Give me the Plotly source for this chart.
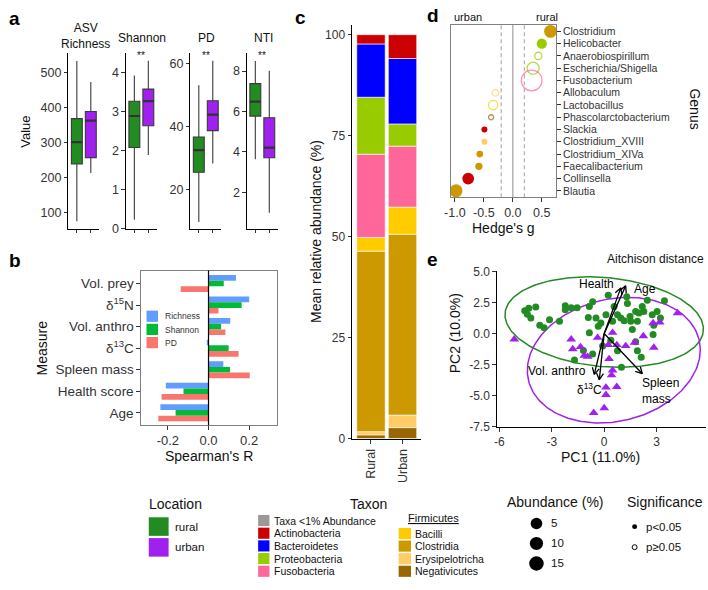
import numpy as np
import plotly.graph_objects as go

W, H = 708, 590
FONT = "Liberation Sans, Arial, Helvetica, sans-serif"
INK = "#111111"
TICKINK = "#333333"

# ================= DATA =================
# ---- panel a : alpha diversity (box statistics) ----
locations = ["rural", "urban"]
loc_colors = ["#228B22", "#A020F0"]

asv_q1 = [239, 257]
asv_median = [301, 362]
asv_q3 = [368, 388]
asv_low = [76, 213]
asv_high = [532, 472]

shannon_q1 = [2.07, 2.63]
shannon_median = [2.88, 3.26]
shannon_q3 = [3.26, 3.57]
shannon_low = [0.22, 1.88]
shannon_high = [3.92, 4.30]

pd_q1 = [25.6, 38.8]
pd_median = [32.6, 43.9]
pd_q3 = [36.8, 48.3]
pd_low = [9.8, 28.4]
pd_high = [53.2, 61.0]

nti_q1 = [5.77, 3.71]
nti_median = [6.49, 4.21]
nti_q3 = [7.38, 5.69]
nti_low = [3.63, 0.99]
nti_high = [8.50, 8.02]

alpha_titles = ["ASV<br>Richness", "Shannon", "PD", "NTI"]
alpha_signif = ["", "**", "**", "**"]
asv_ticks = [100, 200, 300, 400, 500]
shannon_ticks = [0, 1, 2, 3, 4]
pd_ticks = [20, 40, 60]
nti_ticks = [2, 4, 6, 8]

# ---- panel b : Spearman correlations ----
measures = ["Vol. prey", "d15N", "Vol. anthro", "d13C", "Spleen mass", "Health score", "Age"]
measure_labels = ["Vol. prey", "δ<sup>15</sup>N", "Vol. anthro", "δ<sup>13</sup>C",
                  "Spleen mass", "Health score", "Age"]
r_richness = [0.135, 0.200, 0.107, -0.005, 0.073, -0.210, -0.237]
r_shannon = [0.075, 0.163, 0.062, 0.099, 0.106, -0.123, -0.162]
r_pd = [-0.137, 0.049, 0.083, 0.148, 0.203, -0.231, -0.247]
spearman_ticks = [-0.2, 0.0, 0.2]

# ---- panel c : mean relative abundance (stack from bottom) ----
groups = ["Rural", "Urban"]
taxa = ["Negativicutes", "Erysipelotricha", "Clostridia", "Bacilli",
        "Fusobacteria", "Proteobacteria", "Bacteroidetes", "Actinobacteria"]
rural_abund = [0.9, 0.8, 44.7, 3.4, 20.6, 14.1, 13.2, 2.3]
urban_abund = [2.7, 3.1, 44.8, 6.7, 15.1, 5.5, 16.2, 5.9]
abund_ticks = [0, 25, 50, 75, 100]

taxon_colors = {
    "Taxa <1% Abundance": "#999999",
    "Actinobacteria": "#CC0000",
    "Bacteroidetes": "#0000FF",
    "Proteobacteria": "#99CC00",
    "Fusobacteria": "#FF6699",
    "Bacilli": "#FFCC00",
    "Clostridia": "#CC9900",
    "Erysipelotricha": "#FFCC66",
    "Negativicutes": "#996600",
}
legend_phyla = ["Taxa <1% Abundance", "Actinobacteria", "Bacteroidetes", "Proteobacteria", "Fusobacteria"]
legend_firmicutes = ["Bacilli", "Clostridia", "Erysipelotricha", "Negativicutes"]

# ---- panel d : Hedge's g per genus ----
genera = ["Clostridium", "Helicobacter", "Anaerobiospirillum", "Escherichia/Shigella",
          "Fusobacterium", "Allobaculum", "Lactobacillus", "Phascolarctobacterium",
          "Slackia", "Clostridium_XVIII", "Clostridium_XIVa", "Faecalibacterium",
          "Collinsella", "Blautia"]
hedges_g = [0.65, 0.50, 0.44, 0.35, 0.325, -0.30, -0.34, -0.375,
            -0.49, -0.49, -0.57, -0.585, -0.77, -0.98]
genus_abundance = [7.7, 5.0, 2.5, 6.8, 20.3, 2.1, 4.1, 1.2, 1.7, 1.7, 2.1, 2.5, 6.5, 8.0]
genus_significant = [True, True, False, False, False, False, False, False,
                     True, True, True, True, True, True]
genus_taxon = ["Clostridia", "Proteobacteria", "Proteobacteria", "Proteobacteria",
               "Fusobacteria", "Erysipelotricha", "Bacilli", "Negativicutes",
               "Actinobacteria", "Erysipelotricha", "Clostridia", "Clostridia",
               "Actinobacteria", "Clostridia"]
hedge_ticks = [-1.0, -0.5, 0.0, 0.5]
hedge_thresholds = [-0.2, 0.2]
abundance_legend = [5, 10, 15]

# ---- panel e : PCA (Aitchison distance) ----
rural_pc1 = [-4.55, -4.32, -4.40, -4.20, -3.92, -3.69, -3.44, -3.13, -2.56, -2.23, -2.23,
             -1.89, -1.55, -0.85, -0.91, -0.85, -0.34, 0.10, 0.23, 0.48, 0.57, 0.95, 1.14,
             1.29, 1.33, 1.48, 1.52, 1.61, 1.80, 1.99, 2.18, 2.27, 2.47, 2.75, 2.84, 2.80,
             3.03, 3.22, 3.45, 2.12, 1.90, 1.80, 0.99, -1.70, -0.66, -0.09, 0.38, 0.76,
             -0.66, 1.90, 0.76, -0.47, -0.19, -1.19]
rural_pc2 = [1.82, 2.03, 1.55, 1.24, 2.13, 0.66, 0.45, 1.11, 0.98, 2.24, 1.90,
             2.07, 2.07, 2.16, 1.29, 0.06, 0.58, 1.50, 3.08, 0.98, 2.16, 1.24, 1.03,
             2.95, 2.42, 1.37, 0.98, 0.32, 1.77, 1.64, 2.16, 1.77, 2.68, 1.50, 0.66, -0.08,
             1.77, 1.24, 2.63, -1.92, -1.39, -0.66, -2.71, -2.13, -1.66, -1.00, -0.55, -1.39,
             2.56, 0.98, 1.50, 1.24, 0.84, -1.37]
urban_pc1 = [-5.15, -1.89, -1.80, -1.36, -1.14, -0.95, -0.38, 0.48, 0.23, 0.28, 0.48, 0.42,
             0.72, 1.23, 1.74, 2.24, 2.80, 3.18, 2.84, 4.20, 0.72, 0.10, 0.10, 0.00, -0.60]
urban_pc2 = [-0.47, -0.47, -1.26, -1.08, -1.79, -1.87, -0.34, 0.06, -0.92, -2.05, -2.97, -3.36,
             -0.92, -1.00, -0.73, -0.21, 0.84, 0.90, -1.13, 1.64, -4.29, -4.34, -4.94, -6.00, -6.39]
# 95% ellipses: centre, semi-axes, rotation (deg)
rural_ellipse = dict(cx=0.0, cy=0.92, a=5.73, b=3.56, angle=-9.5)
urban_ellipse = dict(cx=0.55, cy=-2.15, a=5.40, b=4.57, angle=48.5)
loading_names = ["Health", "Age", "Vol. anthro", "δ<sup>13</sup>C", "Spleen<br>mass"]
loading_pc1 = [0.95, 1.23, -0.57, -0.28, 2.18]
loading_pc2 = [3.67, 3.83, -3.29, -3.72, -3.24]
pc1_ticks = [-6, -3, 0, 3]
pc2_ticks = [-7.5, -5.0, -2.5, 0.0, 2.5, 5.0]

# ================= FIGURE =================
fig = go.Figure()
layout_axes = {}
annotations = []
shapes = []


def dom_x(a, b):
    return [a / W, b / W]


def dom_y(top, bottom):
    return [1 - bottom / H, 1 - top / H]


def axis(**kw):
    base = dict(showgrid=False, zeroline=False, showline=True, linecolor="black", linewidth=1,
                ticks="outside", ticklen=3.5, tickwidth=1, tickcolor=TICKINK,
                tickfont=dict(family=FONT, size=12.5, color=TICKINK), fixedrange=True)
    base.update(kw)
    return base


def note(x, y, text, size=12, xanchor="center", yanchor="middle", angle=0, color=INK):
    annotations.append(dict(xref="paper", yref="paper", x=x / W, y=1 - y / H, text=text,
                            showarrow=False, xanchor=xanchor, yanchor=yanchor, textangle=angle,
                            borderpad=0, font=dict(family=FONT, size=size, color=color)))


def rect(x0, x1, top, bottom, color, line_color=None, line_width=0):
    shapes.append(dict(type="rect", xref="paper", yref="paper", x0=x0 / W, x1=x1 / W,
                       y0=1 - bottom / H, y1=1 - top / H, fillcolor=color,
                       line=dict(width=line_width, color=line_color or color)))


def circle(cx, cy, d, fill, line_width=0):
    shapes.append(dict(type="circle", xref="paper", yref="paper",
                       x0=(cx - d / 2) / W, x1=(cx + d / 2) / W,
                       y0=1 - (cy + d / 2) / H, y1=1 - (cy - d / 2) / H,
                       fillcolor=fill, line=dict(color="black", width=line_width)))


def fmt(v, nd=1):
    return f"{v:.{nd}f}"


# ---------- panel a ----------
alpha_sets = [
    (asv_q1, asv_median, asv_q3, asv_low, asv_high, asv_ticks, [55, 555]),
    (shannon_q1, shannon_median, shannon_q3, shannon_low, shannon_high, shannon_ticks, [-0.01, 4.5]),
    (pd_q1, pd_median, pd_q3, pd_low, pd_high, pd_ticks, [7.7, 63.5]),
    (nti_q1, nti_median, nti_q3, nti_low, nti_high, nti_ticks, [0.2, 8.9]),
]
a_dom = [(63, 94), (121, 152), (186, 217), (243, 274)]
BOX_W = 0.78
for k, (q1, med, q3, lo, hi, tks, rng) in enumerate(alpha_sets):
    xa = "x" if k == 0 else f"x{k + 1}"
    ya = "y" if k == 0 else f"y{k + 1}"
    for i, loc in enumerate(locations):
        fig.add_trace(go.Box(x=[i], q1=[q1[i]], median=[med[i]], q3=[q3[i]],
                             lowerfence=[lo[i]], upperfence=[hi[i]], width=BOX_W, whiskerwidth=0,
                             fillcolor=loc_colors[i], line=dict(color="#3a3a3a", width=1.1),
                             boxpoints=False, xaxis=xa, yaxis=ya, showlegend=False, hoverinfo="skip"))
        fig.add_trace(go.Scatter(x=[i - BOX_W / 2, i + BOX_W / 2], y=[med[i], med[i]], mode="lines",
                                 line=dict(color="#333333", width=2.2), xaxis=xa, yaxis=ya,
                                 showlegend=False, hoverinfo="skip"))
    layout_axes["xaxis" if k == 0 else f"xaxis{k + 1}"] = axis(
        domain=dom_x(*a_dom[k]), range=[-0.6, 1.6], tickvals=[0, 1], showticklabels=False, anchor=ya)
    layout_axes["yaxis" if k == 0 else f"yaxis{k + 1}"] = axis(
        domain=dom_y(47, 227), range=rng, tickvals=tks, anchor=xa)
    cx = (a_dom[k][0] + a_dom[k][1]) / 2
    if k == 0:
        note(cx + 2, 30, alpha_titles[k], size=12)
    else:
        note(cx + 1, 32, alpha_titles[k], size=12)
    if alpha_signif[k]:
        note(cx, 50, alpha_signif[k], size=10)

note(9, 12, "<b>a</b>", size=19, color="black")
note(20, 128, "Value", size=13, angle=-90)

# ---------- panel b ----------
corr_series = [("Richness", r_richness, "#619CFF"), ("Shannon", r_shannon, "#00BA38"),
               ("PD", r_pd, "#F8766D")]
BAR_H = 0.263
for j, (name, vals, col) in enumerate(corr_series):
    fig.add_trace(go.Bar(y=measures, x=vals, orientation="h", width=BAR_H, offset=-0.395 + j * BAR_H,
                         marker=dict(color=col, line=dict(width=0)), xaxis="x5", yaxis="y5",
                         showlegend=False, hoverinfo="skip"))
layout_axes["xaxis5"] = axis(domain=dom_x(136, 273.3), range=[-0.333, 0.337], tickvals=spearman_ticks,
                             ticktext=[fmt(v) for v in spearman_ticks], linecolor="#808080", mirror=True,
                             anchor="y5", tickfont=dict(family=FONT, size=13, color=TICKINK))
layout_axes["yaxis5"] = axis(domain=dom_y(270, 428.3), type="category", categoryorder="array",
                             categoryarray=measures, range=[6.57, -0.6], tickmode="array",
                             tickvals=measures, ticktext=measure_labels, linecolor="#808080",
                             mirror=True, anchor="x5",
                             tickfont=dict(family=FONT, size=13.5, color=TICKINK))
shapes.append(dict(type="line", xref="x5", yref="y5 domain", x0=0, x1=0, y0=0, y1=1,
                   line=dict(color="black", width=1.2)))
for j, (name, vals, col) in enumerate(corr_series):
    top = 311 + j * 13.5
    rect(141.7, 153.3, top, top + 11.5, col)
    note(159, top + 6, name, size=8.5, xanchor="left", color="#333333")
note(9, 260, "<b>b</b>", size=19, color="black")
note(36, 349, "Measure", size=14, angle=-90)
note(205, 460, "Spearman's R", size=14)

# ---------- panel c ----------
stack = np.array([rural_abund, urban_abund], dtype=float)
bases = np.cumsum(stack, axis=1) - stack
for t, taxon in enumerate(taxa):
    fig.add_trace(go.Bar(x=groups, y=stack[:, t], base=bases[:, t], width=0.9,
                         marker=dict(color=taxon_colors[taxon], line=dict(color="white", width=0.6)),
                         xaxis="x6", yaxis="y6", showlegend=False, hoverinfo="skip"))
layout_axes["xaxis6"] = axis(domain=dom_x(349, 419), type="category", categoryorder="array",
                             categoryarray=groups, range=[-0.6, 1.6], tickangle=-90, anchor="y6",
                             tickfont=dict(family=FONT, size=12.5, color=TICKINK))
layout_axes["yaxis6"] = axis(domain=dom_y(18, 443), range=[-0.24, 102.5], tickvals=abund_ticks,
                             anchor="x6", tickfont=dict(family=FONT, size=12, color=TICKINK))
note(297, 11, "<b>c</b>", size=19, color="black")
note(312, 230, "Mean relative abundance (%)", size=14, angle=-90)

# ---------- panel d ----------
def abund_to_px(a):
    return 4.6 * np.sqrt(a)


sig_idx = [i for i, s in enumerate(genus_significant) if s]
ns_idx = [i for i, s in enumerate(genus_significant) if not s]
fig.add_trace(go.Scatter(x=[hedges_g[i] for i in sig_idx], y=[genera[i] for i in sig_idx],
                         mode="markers",
                         marker=dict(symbol="circle", color=[taxon_colors[genus_taxon[i]] for i in sig_idx],
                                     size=[abund_to_px(genus_abundance[i]) for i in sig_idx],
                                     line=dict(width=0), opacity=1),
                         xaxis="x7", yaxis="y7", showlegend=False, hoverinfo="skip"))
fig.add_trace(go.Scatter(x=[hedges_g[i] for i in ns_idx], y=[genera[i] for i in ns_idx],
                         mode="markers",
                         marker=dict(symbol="circle-open", color=[taxon_colors[genus_taxon[i]] for i in ns_idx],
                                     size=[abund_to_px(genus_abundance[i]) for i in ns_idx],
                                     line=dict(width=1.3)),
                         xaxis="x7", yaxis="y7", showlegend=False, hoverinfo="skip"))
layout_axes["xaxis7"] = axis(domain=dom_x(448.3, 555), range=[-1.075, 0.75], tickvals=hedge_ticks,
                             ticktext=[fmt(v) for v in hedge_ticks], linecolor="#808080", mirror=True,
                             anchor="y7", tickfont=dict(family=FONT, size=12.5, color=TICKINK))
layout_axes["yaxis7"] = axis(domain=dom_y(18.3, 195), type="category", categoryorder="array",
                             categoryarray=genera, range=[13.53, -0.53], side="right",
                             tickmode="array", tickvals=genera, ticktext=genera,
                             linecolor="#808080", mirror=True, anchor="x7",
                             tickfont=dict(family=FONT, size=10.5, color=TICKINK))
shapes.append(dict(type="line", xref="x7", yref="y7 domain", x0=0, x1=0, y0=0, y1=1, layer="below",
                   line=dict(color="#a8a8a8", width=1.3)))
for thr in hedge_thresholds:
    shapes.append(dict(type="line", xref="x7", yref="y7 domain", x0=thr, x1=thr, y0=0, y1=1,
                       layer="below", line=dict(color="#b5b5b5", width=1.3, dash="4px,3px")))
note(431, 9, "<b>d</b>", size=19, color="black")
note(466, 10, "urban", size=11)
note(546, 10, "rural", size=11)
note(695, 104, "Genus", size=14, angle=90)
note(502, 226, "Hedge's g", size=14)

# ---------- panel e ----------
E_XDOM, E_YDOM = (495, 706), (270.5, 430.5)          # pixel extents of the panel
E_XRANGE, E_YRANGE = [-6.15, 5.83], [-7.55, 5.02]
PX_PER_X = (E_XDOM[1] - E_XDOM[0]) / (E_XRANGE[1] - E_XRANGE[0])
PX_PER_Y = (E_YDOM[1] - E_YDOM[0]) / (E_YRANGE[1] - E_YRANGE[0])


def ellipse_path(p, n=240):
    t = np.linspace(0, 2 * np.pi, n)
    th = np.deg2rad(p["angle"])
    x = p["cx"] + p["a"] * np.cos(th) * np.cos(t) - p["b"] * np.sin(th) * np.sin(t)
    y = p["cy"] + p["a"] * np.sin(th) * np.cos(t) + p["b"] * np.cos(th) * np.sin(t)
    return x, y


for p, col in [(rural_ellipse, loc_colors[0]), (urban_ellipse, loc_colors[1])]:
    ex, ey = ellipse_path(p)
    fig.add_trace(go.Scatter(x=ex, y=ey, mode="lines", line=dict(color=col, width=1.5),
                             xaxis="x8", yaxis="y8", showlegend=False, hoverinfo="skip"))
fig.add_trace(go.Scatter(x=rural_pc1, y=rural_pc2, mode="markers",
                         marker=dict(symbol="circle", size=7, color=loc_colors[0], line=dict(width=0)),
                         xaxis="x8", yaxis="y8", showlegend=False, hoverinfo="skip"))
fig.add_trace(go.Scatter(x=urban_pc1, y=urban_pc2, mode="markers",
                         marker=dict(symbol="triangle-up", size=8.5, color=loc_colors[1], line=dict(width=0)),
                         xaxis="x8", yaxis="y8", showlegend=False, hoverinfo="skip"))

# loading arrows: shaft from origin + open chevron head (built in screen space)
HEAD_PX, HEAD_ANG = 7.5, np.deg2rad(28)
shaft_x, shaft_y, head_x, head_y = [], [], [], []
for lx, ly in zip(loading_pc1, loading_pc2):
    shaft_x += [0, lx, None]
    shaft_y += [0, ly, None]
    dx, dy = lx * PX_PER_X, ly * PX_PER_Y
    ang = np.arctan2(dy, dx)
    for s in (1, -1):
        wx = lx - HEAD_PX * np.cos(ang + s * HEAD_ANG) / PX_PER_X
        wy = ly - HEAD_PX * np.sin(ang + s * HEAD_ANG) / PX_PER_Y
        if s == 1:
            head_x += [wx, lx]
            head_y += [wy, ly]
        else:
            head_x += [wx, None]
            head_y += [wy, None]
fig.add_trace(go.Scatter(x=shaft_x, y=shaft_y, mode="lines", line=dict(color="black", width=1.3),
                         xaxis="x8", yaxis="y8", showlegend=False, hoverinfo="skip"))
fig.add_trace(go.Scatter(x=head_x, y=head_y, mode="lines", line=dict(color="black", width=1.3),
                         xaxis="x8", yaxis="y8", showlegend=False, hoverinfo="skip"))

layout_axes["xaxis8"] = axis(domain=dom_x(*E_XDOM), range=E_XRANGE, tickvals=pc1_ticks,
                             ticktext=[str(v) for v in pc1_ticks], anchor="y8",
                             tickfont=dict(family=FONT, size=12, color=TICKINK))
layout_axes["yaxis8"] = axis(domain=dom_y(*E_YDOM), range=E_YRANGE, tickvals=pc2_ticks,
                             ticktext=[fmt(v) for v in pc2_ticks], anchor="x8",
                             tickfont=dict(family=FONT, size=12, color=TICKINK))
label_style = [  # xanchor, xshift, yshift
    ("right", -5, 4), ("left", 6, -3), ("right", -6, 3), ("right", 5, -9), ("left", -2, -17)]
for n, (name, lx, ly) in enumerate(zip(loading_names, loading_pc1, loading_pc2)):
    xa_, xs, ys = label_style[n]
    annotations.append(dict(x=lx, y=ly, xref="x8", yref="y8", text=name, showarrow=False,
                            xanchor=xa_, yanchor="middle", xshift=xs, yshift=ys, align="left",
                            font=dict(family=FONT, size=12, color="black")))
note(430, 259, "<b>e</b>", size=19, color="black")
note(655, 258, "Aitchison distance", size=12)
note(453, 334, "PC2 (10.0%)", size=14, angle=-90)
note(600, 461, "PC1 (11.0%)", size=14)

# ---------- bottom legends ----------
note(143, 509, "Location", size=14, xanchor="left")
for i, loc in enumerate(locations):
    top = 522.7 + i * 21.3
    rect(144, 164, top, top + 19, loc_colors[i])
    note(169, top + 9.5, loc, size=11.5, xanchor="left")

note(366, 509, "Taxon", size=14)
for i, tx in enumerate(legend_phyla):
    cy = 526 + i * 13
    rect(254.3, 265.7, cy - 5.7, cy + 5.7, taxon_colors[tx])
    note(269, cy, tx, size=10.5, xanchor="left")
note(404, 523.3, "<u>Firmicutes</u>", size=11, xanchor="left")
for i, tx in enumerate(legend_firmicutes):
    cy = 539.3 + i * 12.9
    rect(396, 408.5, cy - 5.7, cy + 5.7, taxon_colors[tx])
    note(411, cy, tx, size=10.5, xanchor="left")

note(504, 507, "Abundance (%)", size=14, xanchor="left")
legend_circle_px = [11.7, 13.3, 14.7]
for i, v in enumerate(abundance_legend):
    cy = 529 + i * 20.5
    circle(535, cy, legend_circle_px[i], "black")
    note(549, cy, str(v), size=11.5, xanchor="left")

note(625, 507, "Significance", size=14, xanchor="left")
circle(634, 532.3, 5, "black")
circle(634, 553.3, 5, "white", line_width=1)
note(644, 532.3, "p<0.05", size=11.5, xanchor="left")
note(644, 553.3, "p≥0.05", size=11.5, xanchor="left")

fig.update_layout(width=W, height=H, autosize=False, margin=dict(l=0, r=0, t=0, b=0),
                  paper_bgcolor="white", plot_bgcolor="white", showlegend=False,
                  barmode="overlay", font=dict(family=FONT, color=INK),
                  annotations=annotations, shapes=shapes, **layout_axes)

fig.write_html("out.html", config={"displayModeBar": False},
               post_script="document.body.style.margin='0px';")
